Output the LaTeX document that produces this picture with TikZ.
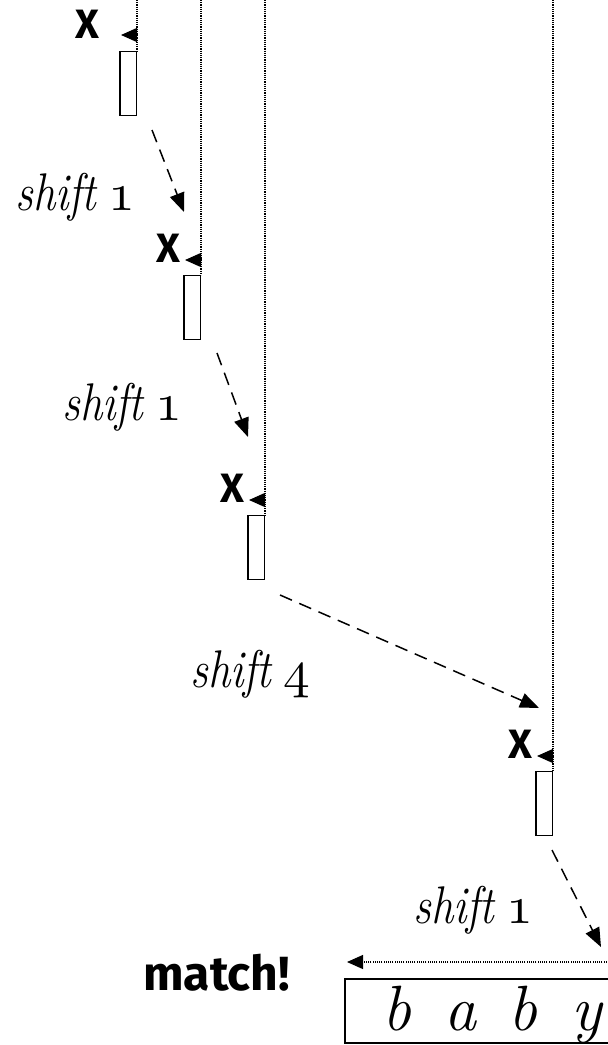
\documentclass[tikz,border=0pt]{standalone}
\usepackage{fontspec}
\newfontfamily\labelsans{Fira Sans}
\usetikzlibrary{arrows.meta}
\newcommand\osnum[1]{\resizebox{!}{23pt}{\fontencoding{OML}\fontfamily{cmm}\fontseries{m}\fontshape{it}\fontsize{10}{12}\selectfont #1}}
\newcommand\shiftlabel[1]{\scalebox{0.84}[1]{\fontsize{53}{60}\selectfont\itshape shift}\hspace{12pt}\osnum{#1}}
\tikzset{
  dots/.style={line width=1.2pt, dash pattern=on 1.1pt off 1.1pt},
  backtip/.style={dots, -{Triangle[length=16pt,width=14pt]}},
  shiftarrow/.style={line width=1.5pt, dash pattern=on 13pt off 8pt, -{Triangle[length=19pt,width=15pt]}},
  slot/.style={draw, line width=1.3pt, inner sep=0pt, minimum width=16.5pt, minimum height=64pt, anchor=north east},
  xmark/.style={font=\labelsans\bfseries\fontsize{41}{45}\selectfont, inner sep=0pt},
  lbl/.style={inner sep=0pt, anchor=base west},
  letter/.style={font=\fontsize{64}{70}\selectfont\itshape, inner sep=0pt, anchor=base}
}
\begin{document}
\begin{tikzpicture}[x=1pt,y=-1pt]
\useasboundingbox (0,0) rectangle (608,1045);
\clip (0,0) rectangle (608,1045);
% columns
\node[slot] (r1) at (137,51) {};
\node[slot] (r2) at (201,275) {};
\node[slot] (r3) at (265,515) {};
\node[slot] (r4) at (553,771) {};
\coordinate (t1) at (137,0);
\coordinate (t2) at (201,0);
\coordinate (t3) at (265,0);
\coordinate (t4) at (553,0);
\draw[dots] (t1) -- (r1.north east);
\draw[dots] (t2) -- (r2.north east);
\draw[dots] (t3) -- (r3.north east);
\draw[dots] (t4) -- (r4.north east);
% X marks and small arrows
\node[xmark] (x1) at (87,24) {X};
\node[xmark] (x2) at (168,248) {X};
\node[xmark] (x3) at (232,488) {X};
\node[xmark] (x4) at (520,744) {X};
\coordinate (a1) at (137,35);  \coordinate (h1) at (121,35);
\coordinate (a2) at (201,260); \coordinate (h2) at (185,260);
\coordinate (a3) at (265,500); \coordinate (h3) at (249,500);
\coordinate (a4) at (553,756); \coordinate (h4) at (537,756);
\draw[backtip] (a1) -- (h1);
\draw[backtip] (a2) -- (h2);
\draw[backtip] (a3) -- (h3);
\draw[backtip] (a4) -- (h4);
% shift arrows
\coordinate (s1) at (152,130); \coordinate (e1) at (184,212);
\coordinate (s2) at (217,353); \coordinate (e2) at (248,437);
\coordinate (s3) at (280,595); \coordinate (e3) at (539,708);
\coordinate (s4) at (552,850); \coordinate (e4) at (601,947);
\draw[shiftarrow] (s1) -- (e1);
\draw[shiftarrow] (s2) -- (e2);
\draw[shiftarrow] (s3) -- (e3);
\draw[shiftarrow] (s4) -- (e4);
% labels
\node[lbl] (l1) at (15,210) {\shiftlabel{1}};
\node[lbl] (l2) at (62,420) {\shiftlabel{1}};
\node[lbl] (l3) at (190,687) {\shiftlabel{4}};
\node[lbl] (l4) at (413,923) {\shiftlabel{1}};
% match
\coordinate (m0) at (620,962);
\coordinate (m1) at (347,962);
\draw[backtip] (m0) -- (m1);
\node[inner sep=0pt, anchor=base west, font=\labelsans\bfseries\fontsize{48}{52}\selectfont] (match) at (143,990) {match!};
\draw[line width=1.3pt] (345,979) rectangle (640,1043);
\node[letter] (b1) at (397,1030) {b};
\node[letter] (a) at (460,1030) {a};
\node[letter] (b2) at (523,1030) {b};
\node[letter] (y) at (587,1030) {y};
\end{tikzpicture}
\end{document}
